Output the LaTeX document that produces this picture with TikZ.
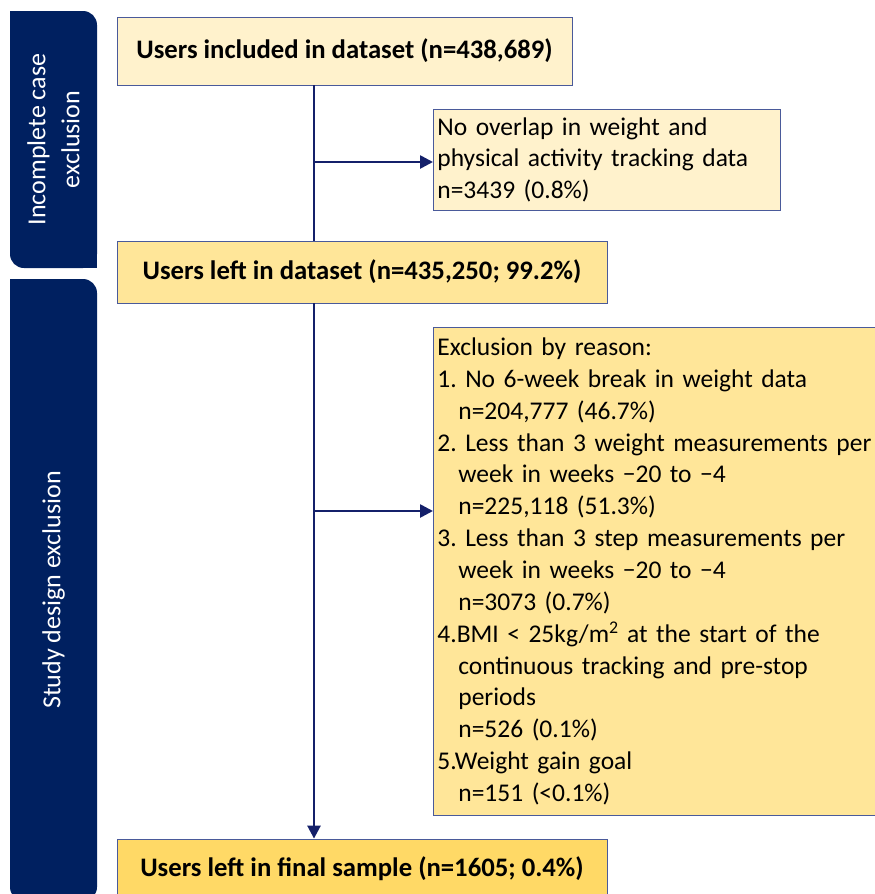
\documentclass[tikz,border=0pt]{standalone}
\usepackage{fontspec}
\setmainfont{Carlito}
\usetikzlibrary{arrows.meta}
\frenchspacing
\definecolor{navy}{HTML}{002060}
\definecolor{arrowc}{HTML}{14206A}
\definecolor{edgec}{HTML}{4A5A9A}
\definecolor{lightY}{HTML}{FFF2CC}
\definecolor{midY}{HTML}{FFE699}
\definecolor{darkY}{HTML}{FFD966}
\begin{document}
\begin{tikzpicture}[x=1pt,y=-1pt,
  box/.style={draw=edgec, line width=0.8pt, inner ysep=0pt, inner xsep=4pt, font=\fontsize{25.5}{31.86}\selectfont},
  boldbox/.style={box, font=\fontsize{26.7}{30}\selectfont\bfseries},
  conn/.style={draw=arrowc, line width=2.6pt},
  arr/.style={conn, -{Triangle[length=13pt,width=13pt]}},
  sidebar/.style={fill=navy, rounded corners=14pt, text=white, inner sep=0pt},
  sidetext/.style={rotate=90, align=center, font=\fontsize{26}{34}\selectfont}]
\useasboundingbox (0,0) rectangle (875,894);
\clip (0,0) rectangle (875,894);
% side bars
\node[sidebar, minimum width=87pt, minimum height=257pt] (bar1) at (53.5,139.5) {};
\fill[navy] (bar1.north west) rectangle ++(20,20);
\fill[navy] (bar1.south east) rectangle ++(-20,-20);
\node[sidetext, text=white] (bar1t) at (bar1.center) {Incomplete case\\exclusion};
\node[sidebar, minimum width=87pt, minimum height=622pt] (bar2) at (53.5,590) {};
\fill[navy] (bar2.north west) rectangle ++(20,20);
\node[sidetext, text=white] (bar2t) at (bar2.center) {Study design exclusion};
% boxes
\node[boldbox, fill=lightY, minimum width=455pt, minimum height=68pt] (inc) at (344.5,51) {Users included in dataset (n=438,689)};
\node[box, fill=lightY, anchor=north west, text width=339pt, minimum height=101pt, align=left] (nov) at (433,109) {No overlap in weight and\\physical activity tracking data\\n=3439 (0.8\%)};
\node[boldbox, fill=midY, minimum width=490pt, minimum height=62pt] (left) at (362,272) {Users left in dataset (n=435,250; 99.2\%)};
\node[box, fill=midY, anchor=north west, text width=450pt, minimum height=488pt, align=left] (reasons) at (433,327) {Exclusion by reason:\\
1. No 6-week break in weight data\\
\hspace*{21pt}n=204,777 (46.7\%)\\
2. Less than 3 weight measurements per\\
\hspace*{21pt}week in weeks −20 to −4\\
\hspace*{21pt}n=225,118 (51.3\%)\\
3. Less than 3 step measurements per\\
\hspace*{21pt}week in weeks −20 to −4\\
\hspace*{21pt}n=3073 (0.7\%)\\
4.BMI < 25kg/m\textsuperscript{2} at the start of the\\
\hspace*{21pt}continuous tracking and pre-stop\\
\hspace*{21pt}periods\\
\hspace*{21pt}n=526 (0.1\%)\\
5.Weight gain goal\\
\hspace*{21pt}n=151 (<0.1\%)};
\node[boldbox, fill=darkY, minimum width=490pt, minimum height=60pt] (final) at (362,869) {Users left in final sample (n=1605; 0.4\%)};
% connectors
\coordinate (t1) at (314,162);
\coordinate (t2) at (314,511);
\draw[conn] (inc.south -| t1) -- (left.north -| t1);
\draw[arr] (t1) -- (t1 -| nov.west);
\draw[arr] (left.south -| t2) -- (final.north -| t2);
\draw[arr] (t2) -- (t2 -| reasons.west);
\end{tikzpicture}
\end{document}
